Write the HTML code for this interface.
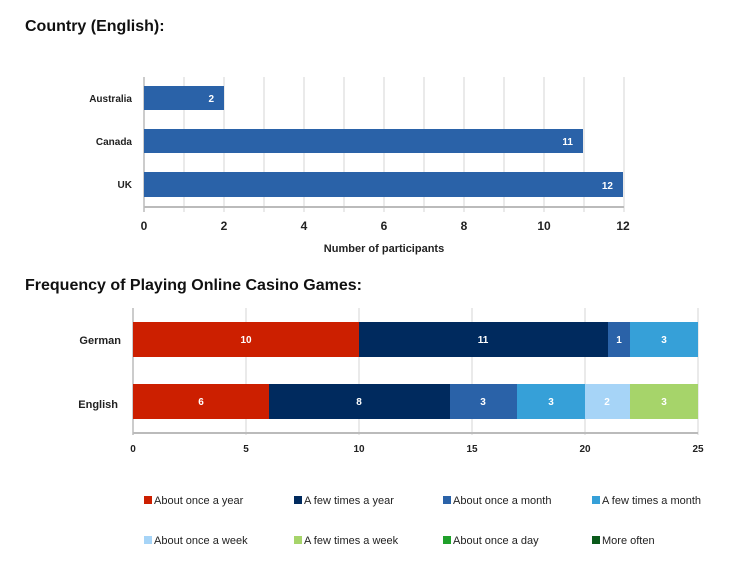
<!DOCTYPE html><html><head><style>body{margin:0;background:#fff;width:742px;height:560px;overflow:hidden}</style></head><body>
<svg width="742" height="560" xmlns="http://www.w3.org/2000/svg" font-family="Liberation Sans, sans-serif">
<text x="25" y="31" font-size="16" font-weight="bold" fill="#111">Country (English):</text>
<g stroke="#d4d4d4" stroke-width="1">
<line x1="184" y1="77" x2="184" y2="212"/><line x1="224" y1="77" x2="224" y2="212"/><line x1="264" y1="77" x2="264" y2="212"/><line x1="304" y1="77" x2="304" y2="212"/><line x1="344" y1="77" x2="344" y2="212"/><line x1="384" y1="77" x2="384" y2="212"/><line x1="424" y1="77" x2="424" y2="212"/><line x1="464" y1="77" x2="464" y2="212"/><line x1="504" y1="77" x2="504" y2="212"/><line x1="544" y1="77" x2="544" y2="212"/><line x1="584" y1="77" x2="584" y2="212"/><line x1="624" y1="77" x2="624" y2="212"/>
</g>
<line x1="144" y1="77" x2="144" y2="212" stroke="#999"/>
<line x1="144" y1="207" x2="624" y2="207" stroke="#bbb" stroke-width="2"/>
<g fill="#2a62a8">
<rect x="144" y="86" width="80" height="24"/><rect x="144" y="129" width="439" height="24"/><rect x="144" y="172" width="479" height="25"/>
</g>
<g font-size="10" font-weight="bold" fill="#fff" text-anchor="end">
<text x="214" y="102">2</text><text x="573" y="145">11</text><text x="613" y="189">12</text></g>
<g font-size="10" fill="#222" text-anchor="end" font-weight="bold">
<text x="132" y="102">Australia</text><text x="132" y="145">Canada</text><text x="132" y="188">UK</text></g>
<g font-size="12" fill="#222" text-anchor="middle" font-weight="bold">
<text x="144" y="230">0</text><text x="224" y="230">2</text><text x="304" y="230">4</text><text x="384" y="230">6</text><text x="464" y="230">8</text><text x="544" y="230">10</text><text x="623" y="230">12</text>
<text x="384" y="252" font-size="11">Number of participants</text></g>

<text x="25" y="290" font-size="16" font-weight="bold" fill="#111">Frequency of Playing Online Casino Games:</text>
<g stroke="#d4d4d4"><line x1="246" y1="308" x2="246" y2="435"/><line x1="359" y1="308" x2="359" y2="435"/><line x1="472" y1="308" x2="472" y2="435"/><line x1="585" y1="308" x2="585" y2="435"/><line x1="698" y1="308" x2="698" y2="435"/></g>
<line x1="133" y1="308" x2="133" y2="435" stroke="#999"/>
<line x1="133" y1="433" x2="698" y2="433" stroke="#bbb" stroke-width="2"/>
<rect x="133" y="322" width="226" height="35" fill="#cc1f00"/>
<rect x="359" y="322" width="249" height="35" fill="#002a5e"/>
<rect x="608" y="322" width="22" height="35" fill="#2a62a8"/>
<rect x="630" y="322" width="68" height="35" fill="#36a0d8"/>
<rect x="133" y="384" width="136" height="35" fill="#cc1f00"/>
<rect x="269" y="384" width="181" height="35" fill="#002a5e"/>
<rect x="450" y="384" width="67" height="35" fill="#2a62a8"/>
<rect x="517" y="384" width="68" height="35" fill="#36a0d8"/>
<rect x="585" y="384" width="45" height="35" fill="#a6d4f7"/>
<rect x="630" y="384" width="68" height="35" fill="#a6d46a"/>
<g font-size="10" font-weight="bold" fill="#fff" text-anchor="middle">
<text x="246" y="343">10</text><text x="483" y="343">11</text><text x="619" y="343">1</text><text x="664" y="343">3</text>
<text x="201" y="405">6</text><text x="359" y="405">8</text><text x="483" y="405">3</text><text x="551" y="405">3</text><text x="607" y="405">2</text><text x="664" y="405">3</text></g>
<g font-size="11" fill="#222" text-anchor="end" font-weight="bold"><text x="121" y="344">German</text><text x="118" y="408">English</text></g>
<g font-size="10" fill="#222" text-anchor="middle" font-weight="bold"><text x="133" y="452">0</text><text x="246" y="452">5</text><text x="359" y="452">10</text><text x="472" y="452">15</text><text x="585" y="452">20</text><text x="698" y="452">25</text></g>
<g font-size="11" fill="#222">
<rect x="144" y="496" width="8" height="8" fill="#cc1f00"/><text x="154" y="504">About once a year</text>
<rect x="294" y="496" width="8" height="8" fill="#002a5e"/><text x="304" y="504">A few times a year</text>
<rect x="443" y="496" width="8" height="8" fill="#2a62a8"/><text x="453" y="504">About once a month</text>
<rect x="592" y="496" width="8" height="8" fill="#36a0d8"/><text x="602" y="504">A few times a month</text>
<rect x="144" y="536" width="8" height="8" fill="#a6d4f7"/><text x="154" y="544">About once a week</text>
<rect x="294" y="536" width="8" height="8" fill="#a6d46a"/><text x="304" y="544">A few times a week</text>
<rect x="443" y="536" width="8" height="8" fill="#1fa02a"/><text x="453" y="544">About once a day</text>
<rect x="592" y="536" width="8" height="8" fill="#0a5a1a"/><text x="602" y="544">More often</text>
</g>
</svg></body></html>
